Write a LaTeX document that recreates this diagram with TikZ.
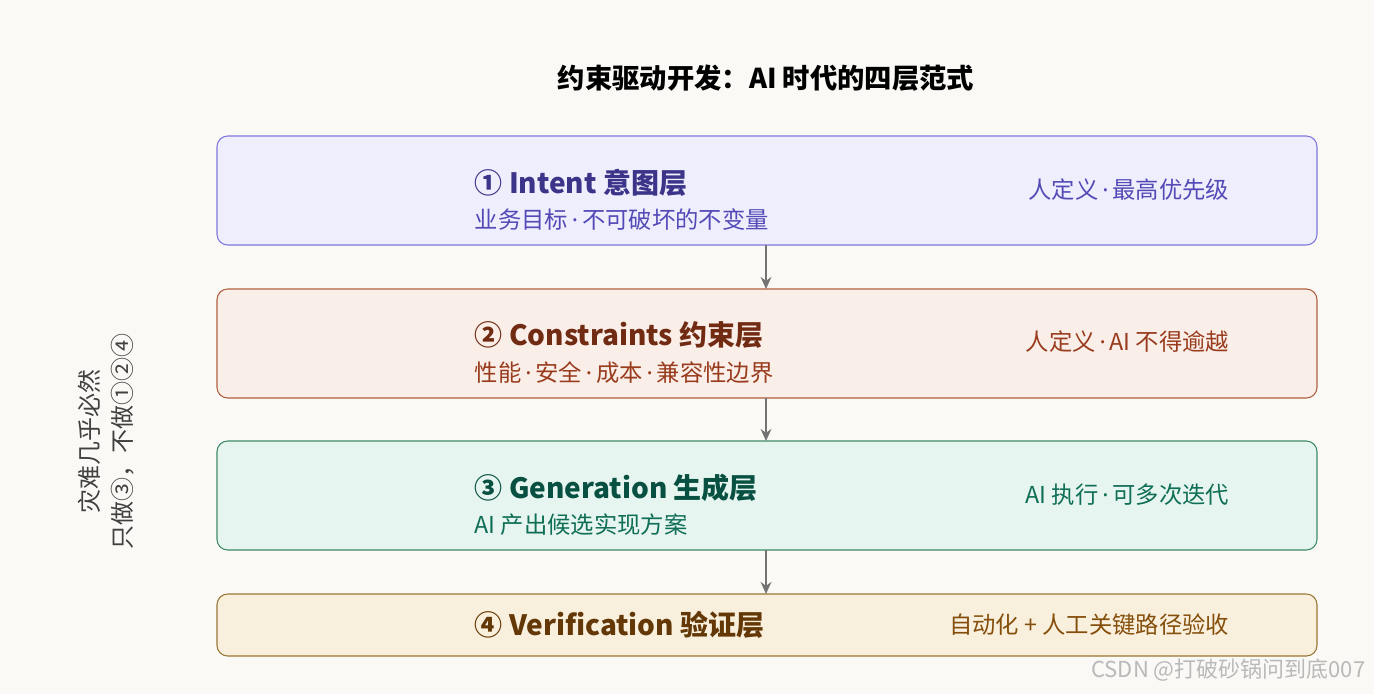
\documentclass[tikz,border=0pt]{standalone}
\usepackage{fontspec}
\setmainfont{Noto Sans CJK SC}
\newfontfamily\latf{Noto Sans}
\newcommand{\dt}{{\latf\,·\,}}
\usetikzlibrary{arrows.meta}
\definecolor{bg}{HTML}{FAF9F6}
\definecolor{fA}{HTML}{EEEEFC}\definecolor{dA}{HTML}{7F77DD}\definecolor{tA}{HTML}{3C3489}\definecolor{rA}{HTML}{534AB7}
\definecolor{fB}{HTML}{FAEEE9}\definecolor{dB}{HTML}{B0603F}\definecolor{tB}{HTML}{712B13}\definecolor{rB}{HTML}{993C1D}
\definecolor{fC}{HTML}{E6F5EF}\definecolor{dC}{HTML}{3C8A6A}\definecolor{tC}{HTML}{085041}\definecolor{rC}{HTML}{0F6E56}
\definecolor{fD}{HTML}{F8EFDD}\definecolor{dD}{HTML}{9A7634}\definecolor{tD}{HTML}{633806}\definecolor{rD}{HTML}{854F0B}
\begin{document}
\begin{tikzpicture}[x=0.75pt,y=-0.75pt,
  box/.style={draw=#1,line width=0.8pt,rounded corners=8pt},
  ttl/.style={anchor=west,font=\fontsize{21}{24}\selectfont\bfseries},
  sub/.style={anchor=west,font=\fontsize{17.5}{20}\selectfont},
  rt/.style={anchor=east,font=\fontsize{17.5}{20}\selectfont},
  arr/.style={-{Stealth[length=9pt,width=8pt]},line width=1.8pt,draw=gray!90!black}]
\fill[bg] (0,0) rectangle (1374,694);
\node[font=\fontsize{20.5}{22}\selectfont\bfseries] (title) at (766,78) {约束驱动开发：AI 时代的四层范式};
\filldraw[box=dA,fill=fA] (217,136) rectangle (1317,245);
\coordinate (b1) at (766,245);
\node[ttl,text=tA] (t1) at (470,183) {① Intent 意图层};
\node[sub,text=rA] (s1) at (470,220) {业务目标\dt 不可破坏的不变量};
\node[rt,text=rA] (r1) at (1234,190) {人定义\dt 最高优先级};
\filldraw[box=dB,fill=fB] (217,289) rectangle (1317,398);
\coordinate (a2) at (766,289);\coordinate (b2) at (766,398);
\node[ttl,text=tB] (t2) at (470,335) {② Constraints 约束层};
\node[sub,text=rB] (s2) at (470,373) {性能\dt 安全\dt 成本\dt 兼容性边界};
\node[rt,text=rB] (r2) at (1234,342) {人定义\dt AI 不得逾越};
\filldraw[box=dC,fill=fC] (217,441) rectangle (1317,550);
\coordinate (a3) at (766,441);\coordinate (b3) at (766,550);
\node[ttl,text=tC] (t3) at (470,488) {③ Generation 生成层};
\node[sub,text=rC] (s3) at (470,525) {AI 产出候选实现方案};
\node[rt,text=rC] (r3) at (1234,495) {AI 执行\dt 可多次迭代};
\filldraw[box=dD,fill=fD] (217,594) rectangle (1317,656);
\coordinate (a4) at (766,594);
\node[ttl,text=tD] (t4) at (470,625) {④ Verification 验证层};
\node[rt,text=rD] (r4) at (1234,625) {自动化 + 人工关键路径验收};
\draw[arr] (b1) -- (a2);
\draw[arr] (b2) -- (a3);
\draw[arr] (b3) -- (a4);
\node[rotate=90,align=center,text=black!75,font=\fontsize{18}{25}\selectfont] (side) at (106,441) {灾难几乎必然\\只做③，不做①②④};
\node[anchor=east,text=gray!55,font=\fontsize{16.5}{18}\selectfont] (wm) at (1370,670) {CSDN @打破砂锅问到底007};
\end{tikzpicture}
\end{document}
